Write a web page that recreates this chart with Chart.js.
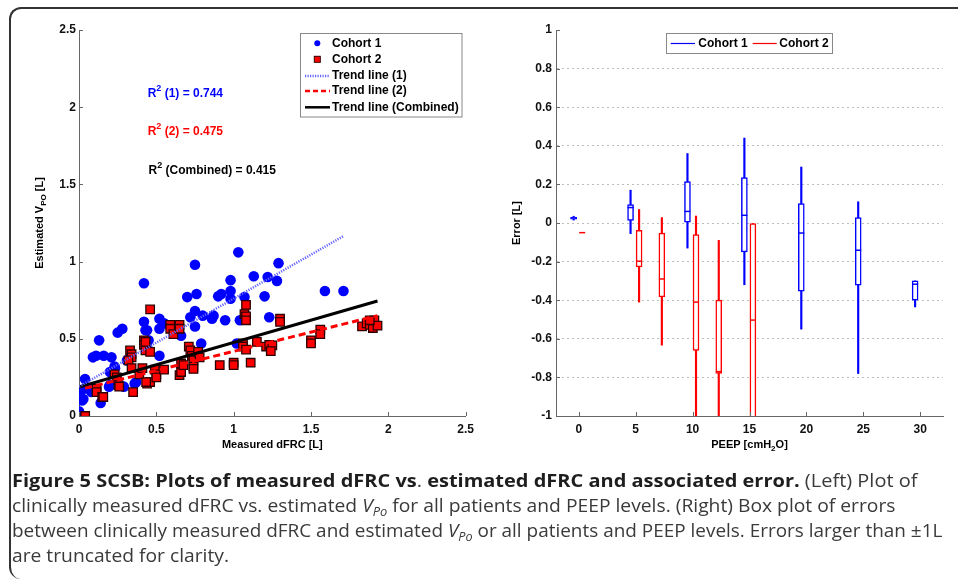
<!DOCTYPE html>
<html>
<head>
<meta charset="utf-8">
<script src="https://cdn.jsdelivr.net/npm/chart.js@4.4.0/dist/chart.umd.min.js"></script>
<style>
body { margin:0; background:#fff; width:958px; height:581px; overflow:hidden; position:relative; }
#frame { position:absolute; left:9px; top:7px; width:1000px; height:570px; border-top:2px solid #333; border-left:2px solid #333; border-radius:12px 0 0 12px; pointer-events:none; }
#left { position:absolute; left:0; top:0; }
#right { position:absolute; left:480px; top:0; }
#caption { position:absolute; left:12px; top:468px; font-family:"Open Sans", sans-serif; font-size:18px; line-height:25px; color:#3a3a3a; white-space:nowrap; }
#caption > div { height:25px; }
#caption span.ln { display:inline-block; transform-origin:0 0; }
#caption b { color:#1e1e1e; }
#caption sub { font-size:12px; vertical-align:-4px; line-height:0; }
</style>
</head>
<body>
<canvas id="left" width="480" height="462"></canvas>
<canvas id="right" width="478" height="462"></canvas>
<div id="frame"></div>
<div id="caption">
<div><span class="ln" data-w="906"><b>Figure 5 SCSB: Plots of measured dFRC vs</b>. <b>estimated dFRC and associated error.</b> (Left) Plot of</span></div>
<div><span class="ln" data-w="883">clinically measured dFRC vs. estimated <i>V<sub>Po</sub></i> for all patients and PEEP levels. (Right) Box plot of errors</span></div>
<div><span class="ln" data-w="930">between clinically measured dFRC and estimated <i>V<sub>Po</sub></i> or all patients and PEEP levels. Errors larger than ±1L</span></div>
<div><span class="ln" data-w="217">are truncated for clarity.</span></div>
</div>
<script>
// left plot: measured dFRC vs estimated V_Po
const c1x = [0.00,0.00,0.02,0.017,0.045,0.08,0.09,0.11,0.13,0.14,0.16,0.21,0.20,0.20,0.23,0.25,0.28,0.29,0.31,0.36,0.37,0.42,0.42,0.43,0.44,0.45,0.44,0.52,0.52,0.52,0.55,0.66,0.70,0.72,0.75,0.76,0.75,0.75,0.79,0.80,0.86,0.87,0.90,0.92,0.945,0.98,0.98,0.98,1.03,1.04,1.02,1.29,1.13,1.22,1.28,1.07,1.20,1.59,1.71,1.23,0.028,0.039,0.082,0.194,0.233];
const c1y = [0.03,0.015,0.10,0.166,0.18,0.155,0.38,0.39,0.49,0.084,0.39,0.38,0.20,0.285,0.32,0.54,0.565,0.19,0.36,0.21,0.22,0.61,0.86,0.555,0.555,0.49,0.45,0.63,0.39,0.565,0.60,0.52,0.77,0.64,0.98,0.79,0.68,0.58,0.47,0.65,0.63,0.65,0.775,0.79,0.62,0.88,0.81,0.76,1.06,0.62,0.47,0.99,0.905,0.90,0.875,0.77,0.775,0.81,0.81,0.64,0.11,0.24,0.18,0.19,0.31];
const c2x = [0.04,0.46,0.33,0.34,0.34,0.32,0.34,0.114,0.114,0.15,0.23,0.245,0.255,0.26,0.35,0.39,0.42,0.42,0.43,0.43,0.44,0.46,0.46,0.41,0.49,0.50,0.50,0.55,0.59,0.59,0.61,0.65,0.65,0.65,0.66,0.66,0.675,0.71,0.72,0.73,0.74,0.74,0.74,0.77,0.78,0.91,1.00,1.00,1.08,1.07,1.08,1.08,1.30,1.30,1.11,1.06,1.06,1.08,1.15,1.21,1.23,1.25,1.24,1.50,1.50,1.56,1.56,1.83,1.86,1.88,1.90,1.91,1.93,1.88,0.157,0.434];
const c2y = [0.00,0.69,0.425,0.40,0.38,0.36,0.31,0.177,0.155,0.123,0.27,0.25,0.20,0.19,0.155,0.27,0.49,0.46,0.425,0.48,0.21,0.22,0.415,0.31,0.30,0.27,0.25,0.30,0.59,0.565,0.53,0.59,0.565,0.265,0.285,0.34,0.33,0.45,0.425,0.39,0.36,0.32,0.305,0.415,0.38,0.33,0.345,0.33,0.72,0.66,0.645,0.62,0.63,0.61,0.345,0.47,0.45,0.43,0.48,0.45,0.46,0.458,0.42,0.49,0.47,0.56,0.53,0.58,0.60,0.59,0.57,0.62,0.585,0.62,0.123,0.22];
const trend1X = [0, 1.71], trend1Y = [0.19, 1.165];
const trend2X = [0.04, 1.93], trend2Y = [0.18, 0.65];
const trendCX = [0, 1.93], trendCY = [0.188, 0.745];
const leftTicks = [0, 0.5, 1, 1.5, 2, 2.5];

// right plot: box plot of errors per PEEP level
const peepC1 = [0, 5, 10, 15, 20, 25, 30];
const c1Min = [0.015, -0.055, -0.13, -0.32, -0.55, -0.78, -0.435];
const c1Q1  = [0.02, 0.014, 0.004, -0.15, -0.353, -0.322, -0.40];
const c1Med = [0.026, 0.08, 0.06, 0.04, -0.052, -0.141, -0.317];
const c1Q3  = [0.03, 0.095, 0.215, 0.235, 0.10, 0.028, -0.30];
const c1Max = [0.035, 0.17, 0.36, 0.44, 0.29, 0.11, -0.30];
const peepC2 = [0, 5, 7, 10, 12, 15];
const c2Min = [-0.05, -0.41, -0.633, -1.25, -1.3, -1.6];
const c2Q1  = [-0.05, -0.228, -0.383, -0.66, -0.78, -1.2];
const c2Med = [-0.05, -0.198, -0.29, -0.41, -0.77, -0.503];
const c2Q3  = [-0.05, -0.038, -0.052, -0.06, -0.40, 0.0];
const c2Max = [-0.05, 0.07, 0.028, 0.036, -0.09, 0.0];
const peepTicks = [0, 5, 10, 15, 20, 25, 30];
const errTicks = [-1, -0.8, -0.6, -0.4, -0.2, 0, 0.2, 0.4, 0.6, 0.8, 1];

const BLUE = 'rgb(0,0,255)', RED = 'rgb(255,0,0)';
const fam = '"Liberation Sans", Arial, Helvetica, sans-serif';
const tickFont = { family: fam, size: 12, weight: 'bold' };
const plainNum = v => String(Number(Number(v).toFixed(2)));

const pts = (xs, ys) => xs.map((x, i) => ({ x: x, y: ys[i] }));

// text with sub (1) / superscript (2) parts
function richText(ctx, parts, x, y, align, size) {
    const small = Math.round(size * 0.72);
    let w = 0;
    parts.forEach(([t, m]) => { ctx.font = `bold ${m ? small : size}px ${fam}`; w += ctx.measureText(t).width; });
    let cx = align === 'center' ? x - w / 2 : x;
    ctx.textAlign = 'left';
    ctx.textBaseline = 'middle';
    parts.forEach(([t, m]) => {
        ctx.font = `bold ${m ? small : size}px ${fam}`;
        const dy = m === 1 ? size * 0.38 : m === 2 ? -size * 0.42 : 0;
        ctx.fillText(t, cx, y + dy);
        cx += ctx.measureText(t).width;
    });
}

function innerTicks(chart) {
    const { ctx, chartArea: a, scales: { x, y } } = chart;
    ctx.save();
    ctx.strokeStyle = '#666';
    ctx.lineWidth = 1;
    ctx.beginPath();
    x.ticks.forEach(t => { const p = Math.round(x.getPixelForValue(t.value)) + 0.5; ctx.moveTo(p, a.bottom); ctx.lineTo(p, a.bottom - 4); });
    y.ticks.forEach(t => { const p = Math.round(y.getPixelForValue(t.value)) + 0.5; ctx.moveTo(a.left, p); ctx.lineTo(a.left + 4, p); });
    ctx.stroke();
    ctx.restore();
}

function line(ctx, x1, x2, y, color, width, dash) {
    ctx.save();
    ctx.strokeStyle = color; ctx.lineWidth = width; ctx.setLineDash(dash || []);
    ctx.beginPath(); ctx.moveTo(x1, y); ctx.lineTo(x2, y); ctx.stroke();
    ctx.restore();
}

const leftExtras = {
    id: 'leftExtras',
    afterDraw(chart) {
        const { ctx, chartArea: a, scales: { x, y } } = chart;
        innerTicks(chart);
        ctx.save();
        ctx.fillStyle = '#000';
        richText(ctx, [['Measured dFRC [L]', 0]], (a.left + a.right) / 2, a.bottom + 29, 'center', 11);
        ctx.translate(40, (a.top + a.bottom) / 2);
        ctx.rotate(-Math.PI / 2);
        richText(ctx, [['Estimated V', 0], ['PO', 1], [' [L]', 0]], 0, 0, 'center', 11);
        ctx.restore();

        ctx.save();
        ctx.fillStyle = BLUE;
        richText(ctx, [['R', 0], ['2', 2], [' (1) = 0.744', 0]], x.getPixelForValue(0.444), y.getPixelForValue(2.09), 'left', 12);
        ctx.fillStyle = RED;
        richText(ctx, [['R', 0], ['2', 2], [' (2) = 0.475', 0]], x.getPixelForValue(0.444), y.getPixelForValue(1.84), 'left', 12);
        ctx.fillStyle = '#000';
        richText(ctx, [['R', 0], ['2', 2], [' (Combined) = 0.415', 0]], x.getPixelForValue(0.45), y.getPixelForValue(1.59), 'left', 12);

        // legend
        ctx.fillStyle = '#fff';
        ctx.fillRect(300.5, 33.5, 161.5, 83.5);
        ctx.strokeStyle = '#888'; ctx.lineWidth = 1;
        ctx.strokeRect(300.5, 33.5, 161.5, 83.5);
        ctx.fillStyle = BLUE;
        ctx.beginPath(); ctx.arc(317.3, 43.3, 3, 0, Math.PI * 2); ctx.fill();
        ctx.fillStyle = RED; ctx.strokeStyle = '#300';
        ctx.fillRect(314.3, 56.3, 6, 6); ctx.strokeRect(314.3, 56.3, 6, 6);
        line(ctx, 305, 330, 76, 'rgb(100,100,255)', 2.5, [1.2, 1.3]);
        line(ctx, 305, 330, 91, RED, 2.5, [5, 3]);
        line(ctx, 305, 330, 107.3, '#000', 2.5);
        ctx.fillStyle = '#000';
        const labels = ['Cohort 1', 'Cohort 2', 'Trend line (1)', 'Trend line (2)', 'Trend line (Combined)'];
        const rows = [43.3, 59.3, 76, 91, 107.3];
        labels.forEach((t, i) => richText(ctx, [[t, 0]], 332, rows[i], 'left', 12));
        ctx.restore();
    }
};

new Chart(document.getElementById('left'), {
    type: 'scatter',
    data: {
        datasets: [
            { label: 'Trend line (1)', data: pts(trend1X, trend1Y), showLine: true, pointRadius: 0, borderColor: 'rgb(100,100,255)', borderWidth: 2.5, borderDash: [1.2, 1.3], order: 0 },
            { label: 'Trend line (2)', data: pts(trend2X, trend2Y), showLine: true, pointRadius: 0, borderColor: RED, borderWidth: 3, borderDash: [7, 4], order: 0 },
            { label: 'Trend line (Combined)', data: pts(trendCX, trendCY), showLine: true, pointRadius: 0, borderColor: '#000', borderWidth: 3, order: 0 },
            { label: 'Cohort 2', data: pts(c2x, c2y), pointStyle: 'rect', pointRadius: 6, backgroundColor: RED, borderColor: '#2a0000', borderWidth: 1.3, order: 1 },
            { label: 'Cohort 1', data: pts(c1x, c1y), pointStyle: 'circle', pointRadius: 5.3, backgroundColor: BLUE, borderColor: BLUE, borderWidth: 0, order: 2 }
        ]
    },
    options: {
        responsive: false,
        devicePixelRatio: 1,
        animation: false,
        layout: { padding: { top: 30, right: 14, left: 0, bottom: 0 } },
        plugins: { legend: { display: false }, tooltip: { enabled: false } },
        scales: {
            x: {
                type: 'linear', min: 0, max: 2.5,
                afterBuildTicks: s => { s.ticks = leftTicks.map(v => ({ value: v })); },
                afterFit: s => { s.height = 46; },
                grid: { display: false, drawTicks: false },
                border: { color: '#666', width: 1 },
                ticks: { font: tickFont, color: '#111', padding: 6, maxRotation: 0, callback: plainNum }
            },
            y: {
                type: 'linear', min: 0, max: 2.5,
                afterBuildTicks: s => { s.ticks = leftTicks.map(v => ({ value: v })); },
                afterFit: s => { s.width = 79; },
                grid: { display: false, drawTicks: false },
                border: { color: '#666', width: 1 },
                ticks: { font: tickFont, color: '#111', padding: 3, callback: plainNum }
            }
        }
    },
    plugins: [leftExtras]
});

const off1 = -0.45, off2 = 0.3;

const rightExtras = {
    id: 'rightExtras',
    afterDraw(chart) {
        const { ctx, chartArea: a } = chart;
        innerTicks(chart);
        ctx.save();
        ctx.fillStyle = '#000';
        richText(ctx, [['PEEP [cmH', 0], ['2', 1], ['O]', 0]], (a.left + a.right) / 2, a.bottom + 29, 'center', 11);
        ctx.translate(37, (a.top + a.bottom) / 2);
        ctx.rotate(-Math.PI / 2);
        richText(ctx, [['Error [L]', 0]], 0, 0, 'center', 11);
        ctx.restore();

        ctx.save();
        ctx.fillStyle = '#fff';
        ctx.fillRect(186.5, 33.5, 166, 20);
        ctx.strokeStyle = '#888'; ctx.lineWidth = 1;
        ctx.strokeRect(186.5, 33.5, 166, 20);
        line(ctx, 190.7, 215, 43.5, BLUE, 1.2);
        line(ctx, 272.7, 296.7, 43.5, RED, 1.2);
        ctx.fillStyle = '#000';
        richText(ctx, [['Cohort 1', 0]], 218.3, 43.5, 'left', 12);
        richText(ctx, [['Cohort 2', 0]], 299.3, 43.5, 'left', 12);
        ctx.restore();
    }
};

const floats = (pos, off, lo, hi) => pos.map((p, i) => ({ x: p + off, y: [lo[i], hi[i]] }));

new Chart(document.getElementById('right'), {
    type: 'bar',
    data: {
        datasets: [
            { label: 'Cohort 1 whiskers', data: floats(peepC1, off1, c1Min, c1Max), backgroundColor: BLUE, barThickness: 1.5, grouped: false, clip: 0, order: 3 },
            { label: 'Cohort 2 whiskers', data: floats(peepC2, off2, c2Min, c2Max), backgroundColor: RED, barThickness: 1.5, grouped: false, clip: 0, order: 3 },
            { label: 'Cohort 1', data: floats(peepC1, off1, c1Q1, c1Q3), backgroundColor: '#fff', borderColor: BLUE, borderWidth: 1.5, borderSkipped: false, barThickness: 6, grouped: false, clip: 0, order: 2 },
            { label: 'Cohort 2', data: floats(peepC2, off2, c2Q1, c2Q3), backgroundColor: '#fff', borderColor: RED, borderWidth: 1.5, borderSkipped: false, barThickness: 6, grouped: false, clip: 0, order: 2 },
            { type: 'scatter', label: 'Cohort 1 median', data: peepC1.map((p, i) => ({ x: p + off1, y: c1Med[i] })), pointStyle: 'line', pointRadius: 3, borderColor: BLUE, borderWidth: 1.5, showLine: false, order: 1 },
            { type: 'scatter', label: 'Cohort 2 median', data: peepC2.map((p, i) => ({ x: p + off2, y: c2Med[i] })), pointStyle: 'line', pointRadius: 3, borderColor: RED, borderWidth: 1.5, showLine: false, order: 1 }
        ]
    },
    options: {
        responsive: false,
        devicePixelRatio: 1,
        animation: false,
        layout: { padding: { top: 30, right: 15, left: 0, bottom: 0 } },
        plugins: { legend: { display: false }, tooltip: { enabled: false } },
        scales: {
            x: {
                type: 'linear', min: -2, max: 32, offset: false,
                afterBuildTicks: s => { s.ticks = peepTicks.map(v => ({ value: v })); },
                afterFit: s => { s.height = 46; },
                grid: { display: false, drawTicks: false },
                border: { color: '#666', width: 1 },
                ticks: { font: tickFont, color: '#111', padding: 6, maxRotation: 0, callback: plainNum }
            },
            y: {
                type: 'linear', min: -1, max: 1,
                afterBuildTicks: s => { s.ticks = errTicks.map(v => ({ value: v })); },
                afterFit: s => { s.width = 76; },
                grid: {
                    drawTicks: false,
                    color: c => (c.tick && Math.abs(c.tick.value) > 0.99) ? 'rgba(0,0,0,0)' : '#bdbdbd'
                },
                border: { color: '#666', width: 1, dash: [2, 3] },
                ticks: { font: tickFont, color: '#111', padding: 4, callback: plainNum }
            }
        }
    },
    plugins: [rightExtras]
});

// squeeze each caption line to the width it has in the figure
function fitCaption() {
    document.querySelectorAll('#caption span.ln').forEach(el => {
        const w = el.offsetWidth;
        if (w > 0) el.style.transform = `scaleX(${Number(el.dataset.w) / w})`;
    });
}
fitCaption();
if (document.fonts) document.fonts.ready.then(fitCaption);
</script>
</body>
</html>
